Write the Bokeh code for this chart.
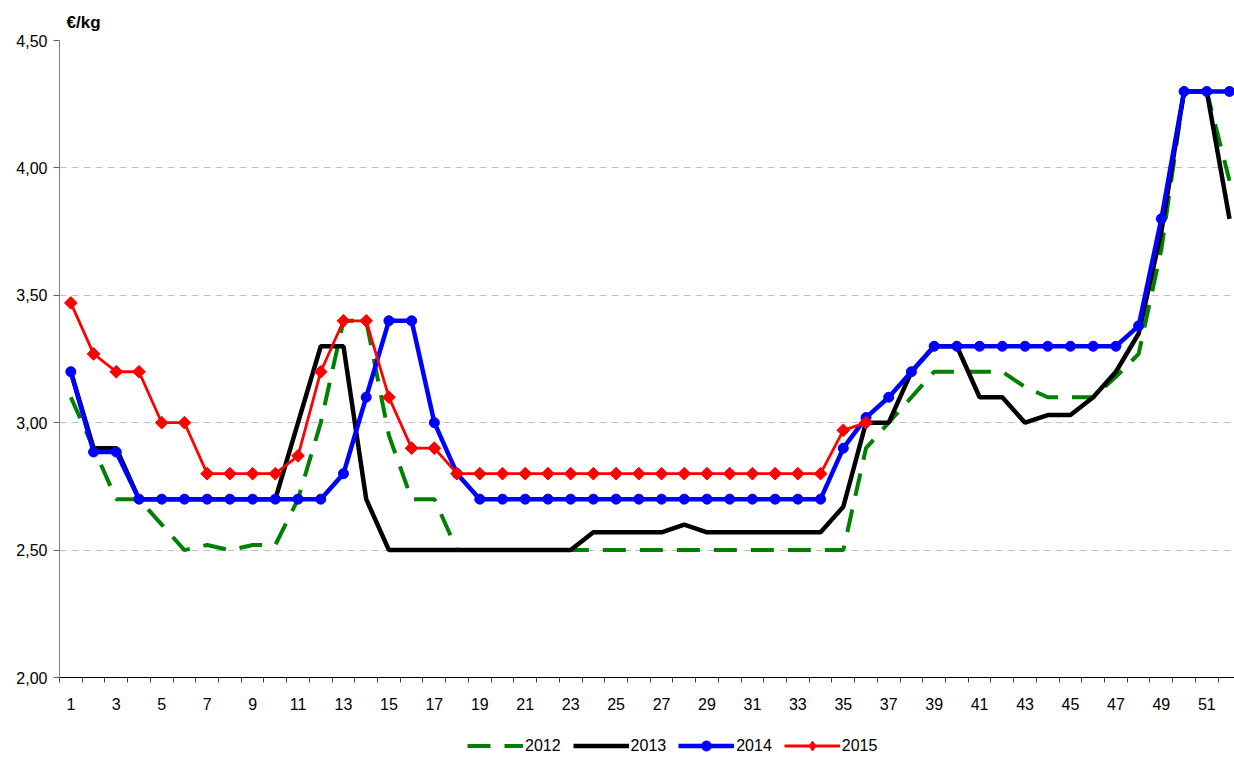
from bokeh.plotting import figure
from bokeh.layouts import column
from bokeh.models import FixedTicker, Legend, LegendItem, CustomJSTickFormatter
from bokeh.embed import file_html
from bokeh.resources import INLINE
import math

weeks = list(range(1, 53))
x_tick_labels = list(range(1, 53, 2))
y_ticks = [2.0, 2.5, 3.0, 3.5, 4.0, 4.5]
years = ["2012", "2013", "2014", "2015"]

v2012 = [3.10, 2.90, 2.70, 2.70, 2.60, 2.50, 2.52, 2.50, 2.52, 2.52,
         2.70, 3.00, 3.40, 3.40, 2.95, 2.70, 2.70,
         2.50, 2.50, 2.50, 2.50, 2.50, 2.50, 2.50, 2.50, 2.50,
         2.50, 2.50, 2.50, 2.50, 2.50, 2.50, 2.50, 2.50, 2.50,
         2.90, 3.00, 3.10, 3.20, 3.20, 3.20, 3.20, 3.14, 3.10, 3.10,
         3.10, 3.18, 3.27, 3.68, 4.30, 4.30, 3.95]
v2013 = [3.20, 2.90, 2.90, 2.70, 2.70, 2.70, 2.70, 2.70, 2.70, 2.70,
         3.00, 3.30, 3.30, 2.70,
         2.50, 2.50, 2.50, 2.50, 2.50, 2.50, 2.50, 2.50, 2.50,
         2.57, 2.57, 2.57, 2.57, 2.60,
         2.57, 2.57, 2.57, 2.57, 2.57, 2.57,
         2.67, 3.00, 3.00, 3.20, 3.30, 3.30, 3.10, 3.10, 3.00, 3.03,
         3.03, 3.10, 3.20, 3.35, 3.75, 4.30, 4.30, 3.80]
v2014 = [3.20, 2.885, 2.885,
         2.70, 2.70, 2.70, 2.70, 2.70, 2.70, 2.70, 2.70, 2.70,
         2.80, 3.10, 3.40, 3.40, 3.00, 2.80,
         2.70, 2.70, 2.70, 2.70, 2.70, 2.70, 2.70, 2.70,
         2.70, 2.70, 2.70, 2.70, 2.70, 2.70, 2.70, 2.70,
         2.90, 3.02, 3.10, 3.20,
         3.30, 3.30, 3.30, 3.30, 3.30, 3.30, 3.30, 3.30, 3.30,
         3.38, 3.80, 4.30, 4.30, 4.30]
v2015 = [3.47, 3.27, 3.20, 3.20, 3.00, 3.00, 2.80, 2.80, 2.80, 2.80,
         2.87, 3.20, 3.40, 3.40, 3.10, 2.90, 2.90,
         2.80, 2.80, 2.80, 2.80, 2.80, 2.80, 2.80, 2.80, 2.80,
         2.80, 2.80, 2.80, 2.80, 2.80, 2.80, 2.80, 2.80,
         2.97, 3.00]

FONT = "Liberation Sans"
GREEN, BLACK, BLUE, RED = "#008000", "#000000", "#0000ff", "#ff0000"

p = figure(width=1234, height=718, output_backend="svg", toolbar_location=None,
           x_range=(0.5, 52.22), y_range=(2.0, 4.5),
           min_border_left=59, min_border_right=0, min_border_top=40,
           min_border_bottom=41)
p.outline_line_color = None
p.background_fill_color = "white"

p.title.text = "€/kg"
p.title.text_font = FONT
p.title.text_font_size = "17px"
p.title.text_font_style = "bold"
p.title.text_color = "black"
p.title.align = "left"
p.title.offset = 7
p.title.standoff = 18

xa = p.xaxis[0]
xa.ticker = FixedTicker(ticks=x_tick_labels, minor_ticks=[w - 0.5 for w in range(1, 54)])
xa.major_tick_out = 0
xa.major_tick_in = 0
xa.minor_tick_out = 5
xa.minor_tick_in = 0
xa.minor_tick_line_color = "#404040"
xa.axis_line_color = "black"
xa.major_label_standoff = 15
xa.major_label_text_font = FONT
xa.major_label_text_font_size = "16px"
xa.major_label_text_color = "black"

ya = p.yaxis[0]
ya.ticker = FixedTicker(ticks=y_ticks, minor_ticks=[])
ya.formatter = CustomJSTickFormatter(code="return tick.toFixed(2).replace('.', ',');")
ya.major_tick_out = 6
ya.major_tick_in = 0
ya.minor_tick_out = 0
ya.minor_tick_in = 0
ya.axis_line_color = "#808080"
ya.major_tick_line_color = "#606060"
ya.major_label_standoff = 6
ya.major_label_text_font = FONT
ya.major_label_text_font_size = "16px"
ya.major_label_text_color = "black"

p.xgrid.visible = False
p.ygrid.ticker = FixedTicker(ticks=y_ticks[1:])
p.ygrid.grid_line_color = "#c0c0c0"
p.ygrid.grid_line_dash = "7 5"
p.ygrid.grid_line_width = 1

w12 = weeks[:len(v2012)]
w13 = weeks[:len(v2013)]
w14 = weeks[:len(v2014)]
w15 = weeks[:len(v2015)]

STY12 = dict(line_color=GREEN, line_width=4, line_dash="23 14")
STY13 = dict(line_color=BLACK, line_width=4.5)
STY14 = dict(line_color=BLUE, line_width=4.5)
MK14 = dict(marker="circle", size=10, fill_color=BLUE, line_color=BLUE)
STY15 = dict(line_color=RED, line_width=2.8)
MK15 = dict(marker="square", angle=math.pi / 4, size=9, fill_color=RED, line_color=RED)

p.line(w12, v2012, **STY12)
p.line(w13, v2013, **STY13)
p.line(w14, v2014, **STY14)
p.scatter(w14, v2014, **MK14)
p.line(w15, v2015, **STY15)
p.scatter(w15, v2015, **MK15)

# legend strip below the chart (series drawn off-range, only used for legend glyphs)
lg = figure(width=1234, height=40, output_backend="svg", toolbar_location=None,
            x_range=(100, 101), y_range=(100, 101), x_axis_type=None, y_axis_type=None,
            min_border=0, min_border_left=0, min_border_right=0,
            min_border_top=0, min_border_bottom=0)
lg.outline_line_color = None
lg.xgrid.visible = False
lg.ygrid.visible = False
l12 = lg.line(w12, v2012, **STY12)
l13 = lg.line(w13, v2013, **STY13)
l14 = lg.line(w14, v2014, **STY14)
m14 = lg.scatter(w14, v2014, **MK14)
l15 = lg.line(w15, v2015, **STY15)
m15 = lg.scatter(w15, v2015, **dict(MK15, marker="diamond", angle=0, size=13))

legend = Legend(items=[
    LegendItem(label=years[0], renderers=[l12]),
    LegendItem(label=years[1], renderers=[l13]),
    LegendItem(label=years[2], renderers=[l14, m14]),
    LegendItem(label=years[3], renderers=[l15, m15]),
], orientation="horizontal", location=(408, 0))
legend.label_text_font = FONT
legend.label_text_font_size = "16px"
legend.label_text_color = "black"
legend.glyph_width = 56
legend.glyph_height = 25
legend.label_standoff = 2
legend.spacing = 12
legend.padding = 0
legend.margin = 0
legend.border_line_color = None
legend.background_fill_alpha = 0
lg.add_layout(legend, "center")

page = column(p, lg, spacing=0)
open("out.html", "w").write(file_html(page, INLINE))
